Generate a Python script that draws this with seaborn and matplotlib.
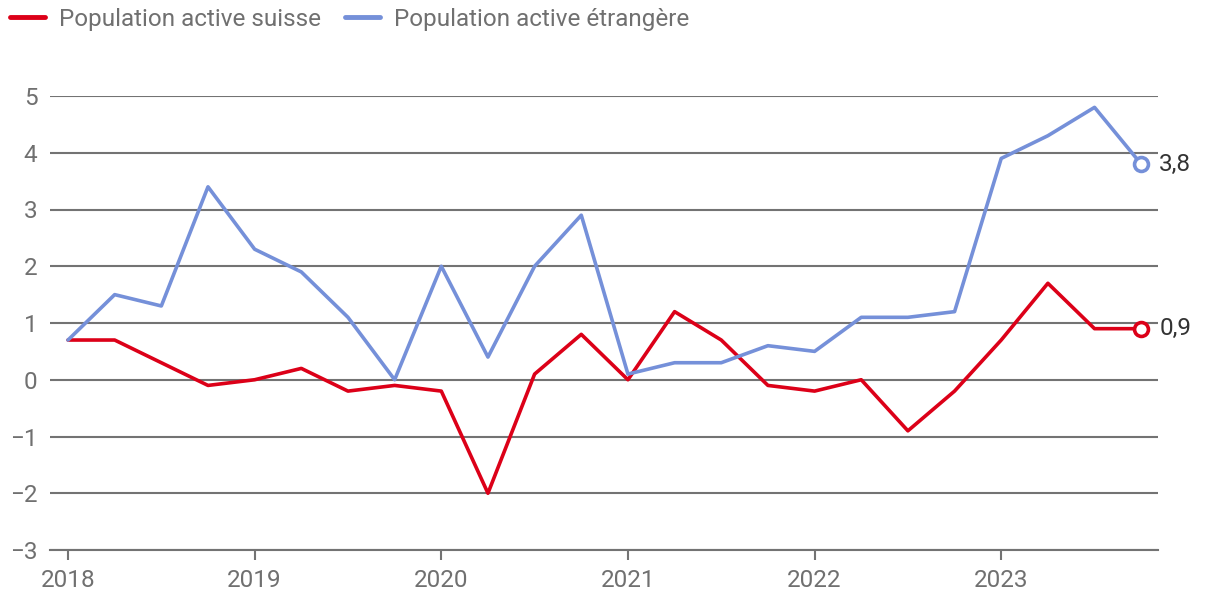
import pandas as pd
import matplotlib
matplotlib.use('Agg')
import matplotlib.pyplot as plt
import seaborn as sns

# données trimestrielles 2018T1 - 2023T4 (variation en %)
quarters = list(range(24))
suisse = [0.7, 0.7, 0.3, -0.1, 0.0, 0.2, -0.2, -0.1,
          -0.2, -2.0, 0.1, 0.8, 0.0, 1.2, 0.7, -0.1,
          -0.2, 0.0, -0.9, -0.2, 0.7, 1.7, 0.9, 0.9]
etrangere = [0.7, 1.5, 1.3, 3.4, 2.3, 1.9, 1.1, 0.0,
             2.0, 0.4, 2.0, 2.9, 0.1, 0.3, 0.3, 0.6,
             0.5, 1.1, 1.1, 1.2, 3.9, 4.3, 4.8, 3.8]
years = ['2018', '2019', '2020', '2021', '2022', '2023']
series_names = ['Population active suisse', 'Population active étrangère']
colors = ['#dc0018', '#7590d9']

df = pd.DataFrame({
    'x': quarters * 2,
    'val': suisse + etrangere,
    'serie': [series_names[0]] * 24 + [series_names[1]] * 24,
})

sns.set_style('white')
plt.rcParams['font.family'] = ['Roboto', 'DejaVu Sans']

fs = 17.5
fig = plt.figure(figsize=(12.2, 6.12), dpi=100)
ax = fig.add_axes([50 / 1220, 1 - 550 / 612, 1108 / 1220, 454 / 612])

sns.lineplot(data=df, x='x', y='val', hue='serie', palette=colors,
             linewidth=2.6, ax=ax, legend=False, zorder=3)

# derniers points avec cercle ouvert et étiquette
for vals, col in zip([suisse, etrangere], colors):
    ax.plot(quarters[-1], vals[-1], 'o', ms=10, mfc='white', mec=col,
            mew=2.6, zorder=4, clip_on=False)
    ax.annotate(f'{vals[-1]:.1f}'.replace('.', ','), (quarters[-1], vals[-1]),
                xytext=(13, 0), textcoords='offset points', va='center',
                ha='left', fontsize=fs, color='#333333', annotation_clip=False)

gray = '#707070'
ax.set_xlim(-0.386, 23.36)
ax.set_ylim(-3, 5)
ax.set_yticks(range(-3, 6))
ax.set_yticklabels([str(v).replace('-', '\u2212') for v in range(-3, 6)])
ax.set_xticks([0, 4, 8, 12, 16, 20])
ax.set_xticklabels(years)
ax.grid(axis='y', color='#737373', linewidth=1.5)
ax.set_axisbelow(True)
for s in ['top', 'right', 'left']:
    ax.spines[s].set_visible(False)
ax.spines['bottom'].set_color('#737373')
ax.spines['bottom'].set_linewidth(1.5)
ax.tick_params(axis='x', length=7, width=1.5, color='#737373', labelcolor=gray,
               labelsize=fs, pad=7, bottom=True)
ax.tick_params(axis='y', length=0, labelcolor=gray, labelsize=fs, pad=9)
ax.set_xlabel('')
ax.set_ylabel('')

# légende en haut
handles = [plt.Line2D([], [], color=c, linewidth=3.5) for c in colors]
fig.legend(handles, series_names, loc='upper left',
           bbox_to_anchor=(10 / 1220, 1 - 8 / 612),
           ncol=2, frameon=False, fontsize=fs, labelcolor=gray,
           borderpad=0, borderaxespad=0,
           handlelength=1.45, handletextpad=0.55, columnspacing=1.0)

fig.savefig('out.png', dpi=100)
